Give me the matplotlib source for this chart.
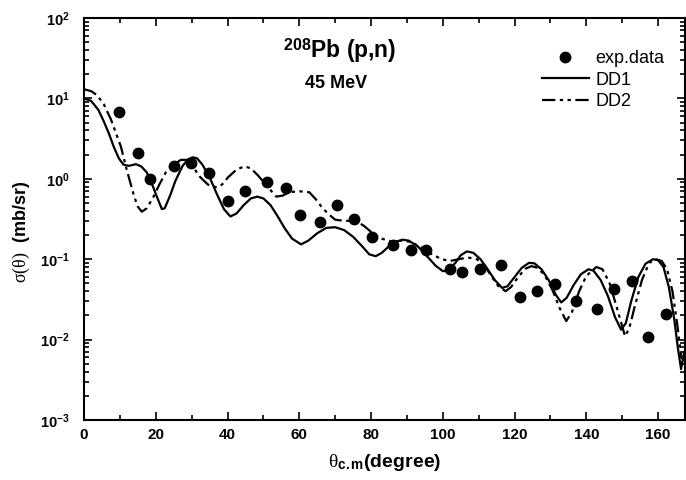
import math
import matplotlib
matplotlib.use('Agg')
import matplotlib.pyplot as plt
from matplotlib.ticker import LogLocator, FixedLocator, NullFormatter, FuncFormatter

plt.rcParams['font.family'] = ['Liberation Sans', 'DejaVu Sans']
plt.rcParams['mathtext.fontset'] = 'custom'
plt.rcParams['mathtext.rm'] = 'Liberation Serif'
plt.rcParams['mathtext.it'] = 'Liberation Serif:italic'
plt.rcParams['mathtext.bf'] = 'Liberation Sans:bold'

# experimental points
exp_x = [9.8, 15.1, 18.5, 25.1, 29.9, 34.9, 40.2, 44.9, 51.1, 56.4, 60.3, 65.8,
         70.6, 75.3, 80.3, 86.2, 91.2, 95.4, 102.1, 105.4, 110.5, 116.3, 121.6,
         126.3, 131.4, 137.2, 143.1, 147.6, 152.6, 157.3, 162.3]
exp_y = [6.7, 2.1, 1.0, 1.43, 1.56, 1.17, 0.525, 0.70, 0.90, 0.76, 0.35, 0.29,
         0.47, 0.32, 0.187, 0.15, 0.13, 0.13, 0.075, 0.069, 0.075, 0.084, 0.034,
         0.040, 0.049, 0.030, 0.024, 0.042, 0.053, 0.0108, 0.0206]

# DD1 curve
dd1_x = [0, 2, 4, 5.5, 7, 8.3, 9.7, 11, 12.5, 14.5, 16, 17.5, 19, 20.3, 21.7, 22.5,
         24, 25.5, 27.5, 29, 30.3, 31.5, 33, 35, 37, 39, 40.8, 42.5, 44.5, 46.5,
         48.3, 50, 52, 54, 56, 58, 60.5, 62.5, 65, 67.5, 70, 72.5, 75, 77.5, 79.5,
         81.3, 83, 85, 87, 88.8, 90.5, 93, 95.5, 98, 100, 101.5, 103.5, 105, 106.7,
         108.5, 110.5, 112.5, 114.5, 116.5, 118, 120, 122, 124, 125.5, 127.5, 129.5,
         131.5, 133, 134.5, 136.5, 138.5, 140.6, 142, 144, 146, 148, 149.7, 151,
         152.5, 154.5, 156.5, 158.6, 160, 161.5, 163, 164.5, 165.5, 166.4, 167.3]
dd1_y = [10.0, 9.3, 7.2, 5.2, 3.6, 2.5, 1.8, 1.5, 1.45, 1.52, 1.42, 1.2, 0.85, 0.6,
         0.42, 0.43, 0.62, 0.95, 1.45, 1.75, 1.85, 1.8, 1.5, 1.05, 0.65, 0.42, 0.34,
         0.37, 0.47, 0.57, 0.6, 0.57, 0.47, 0.34, 0.24, 0.18, 0.153, 0.17, 0.21,
         0.245, 0.25, 0.23, 0.19, 0.145, 0.115, 0.109, 0.12, 0.145, 0.165, 0.175,
         0.17, 0.145, 0.11, 0.083, 0.071, 0.072, 0.09, 0.112, 0.125, 0.12, 0.1,
         0.075, 0.055, 0.044, 0.046, 0.06, 0.078, 0.09, 0.089, 0.075, 0.055, 0.036,
         0.029, 0.033, 0.048, 0.065, 0.075, 0.072, 0.055, 0.035, 0.019, 0.0133,
         0.016, 0.03, 0.06, 0.088, 0.1, 0.097, 0.08, 0.045, 0.018, 0.008, 0.0043,
         0.007]

# DD2 curve
dd2_x = [0, 2, 3.6, 5.5, 7.5, 9, 10.3, 11.9, 13.9, 15, 16.1, 17.5, 19.4, 21, 22.8,
         25, 27, 28.5, 30, 32.2, 34.5, 37, 38.5, 40.2, 42.5, 44.7, 46.5, 48.5, 51,
         53.6, 55.5, 57, 60, 62.8, 64.7, 66.5, 68.3, 70, 72.5, 75.8, 78, 80.5, 83,
         86, 88.5, 91, 94, 97, 99.7, 102, 104.5, 107, 109.5, 111.5, 113.5, 115.5,
         117.5, 119, 121, 123, 124.7, 126.5, 128.5, 130.5, 132.5, 134.4, 136, 138,
         140, 142.8, 144.5, 146.5, 148.5, 150.8, 152, 153.5, 155.5, 157.5, 159.4,
         161, 162.5, 164, 165.3, 166.5, 167.3]
dd2_y = [13.0, 12.3, 11.0, 8.5, 5.5, 3.6, 2.5, 1.3, 0.62, 0.45, 0.39, 0.43, 0.6,
         0.85, 1.2, 1.5, 1.72, 1.72, 1.5, 1.07, 0.85, 0.78, 0.85, 1.05, 1.3, 1.43,
         1.35, 1.1, 0.81, 0.6, 0.62, 0.68, 0.7, 0.68, 0.55, 0.43, 0.36, 0.31, 0.3,
         0.3, 0.26, 0.21, 0.18, 0.165, 0.17, 0.165, 0.14, 0.115, 0.1, 0.095, 0.1,
         0.105, 0.1, 0.085, 0.062, 0.046, 0.04, 0.045, 0.06, 0.076, 0.082, 0.078,
         0.062, 0.042, 0.025, 0.017, 0.022, 0.04, 0.062, 0.08, 0.075, 0.05, 0.025,
         0.011, 0.014, 0.026, 0.055, 0.09, 0.1, 0.095, 0.075, 0.04, 0.016, 0.006,
         0.0055]

fig = plt.figure(figsize=(6.86, 4.8), dpi=100)
ax = fig.add_axes([84 / 686, 60 / 480, 601 / 686, 402 / 480])

ax.plot(exp_x, exp_y, 'ko', markersize=7.5, label='exp.data', zorder=3)
ax.plot(dd1_x, dd1_y, 'k-', lw=1.6, label='DD1')
ax.plot(dd2_x, dd2_y, color='k', lw=1.6, ls=(0, (6, 2, 1.5, 2, 1.5, 2)), label='DD2')

ax.set_yscale('log')
ax.set_xlim(0, 167.5)
ax.set_ylim(1e-3, 1e2)

ax.xaxis.set_major_locator(FixedLocator(range(0, 161, 20)))
ax.xaxis.set_minor_locator(FixedLocator(range(10, 170, 20)))
ax.yaxis.set_major_locator(LogLocator(base=10, numticks=10))
ax.yaxis.set_minor_locator(LogLocator(base=10, subs=range(2, 10), numticks=20))
ax.yaxis.set_minor_formatter(NullFormatter())
ax.yaxis.set_major_formatter(FuncFormatter(
    lambda v, p: r'$\mathbf{10^{%d}}$' % round(math.log10(v))))

ax.tick_params(which='both', direction='in', top=True, right=True, width=1.2)
ax.tick_params(which='major', length=6)
ax.tick_params(which='minor', length=3.5)
ax.tick_params(axis='y', which='major', labelsize=10.5, pad=10)
ax.tick_params(axis='x', which='major', labelsize=11, pad=6)
for lab in ax.get_xticklabels():
    lab.set_fontweight('bold')
for s in ax.spines.values():
    s.set_linewidth(1.5)

ax.set_xlabel(r'$\mathrm{\theta}_{\mathbf{c.m}}$(degree)', fontsize=14,
              fontweight='bold')
ax.xaxis.set_label_coords(0.5, -0.08)
ax.set_ylabel(r'$\mathrm{\sigma(\theta)}$  (mb/sr)', fontsize=13,
              fontweight='bold')
ax.yaxis.set_label_coords(-0.087, 0.468)

ax.text(0.426, 0.92, r'$^{\mathbf{208}}$Pb (p,n)', transform=ax.transAxes,
        ha='center', va='center', fontsize=16.5, fontweight='bold')
ax.text(0.42, 0.836, '45 MeV', transform=ax.transAxes,
        ha='center', va='center', fontsize=13, fontweight='bold')

ax.legend(loc='upper left', bbox_to_anchor=(0.762, 0.92), frameon=False,
          fontsize=13, borderpad=0, borderaxespad=0, handlelength=2.6,
          handletextpad=0.35, labelspacing=0.25)

fig.savefig('out.png', dpi=100)
